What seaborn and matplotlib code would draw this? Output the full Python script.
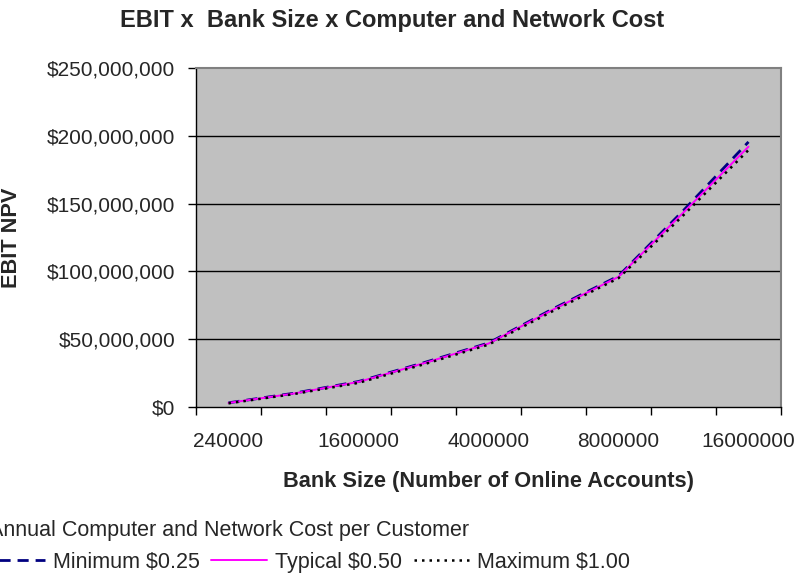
import matplotlib
matplotlib.use("Agg")
import matplotlib.pyplot as plt
import seaborn as sns
import pandas as pd
from matplotlib.ticker import FuncFormatter, FixedLocator
from matplotlib.lines import Line2D

# Bank sizes (number of online accounts), one category per size
bank_sizes = ["240000", "800000", "1600000", "2400000", "4000000",
              "6000000", "8000000", "12000000", "16000000"]

# EBIT NPV per cost scenario
ebit_minimum = [3.1e6, 10.1e6, 18.8e6, 32.6e6, 47.2e6, 72.6e6, 96.6e6, 145.0e6, 195.5e6]
ebit_typical = [3.0e6, 9.9e6, 18.5e6, 32.2e6, 46.8e6, 72.0e6, 96.0e6, 143.5e6, 192.0e6]
ebit_maximum = [2.7e6, 9.5e6, 17.8e6, 31.4e6, 46.0e6, 71.0e6, 95.0e6, 141.5e6, 189.5e6]

series_names = ["Minimum $0.25", "Typical $0.50", "Maximum $1.00"]
legend_title = "Annual Computer and Network Cost per Customer"
y_ticks = [0, 50e6, 100e6, 150e6, 200e6, 250e6]
x_label_sizes = ["240000", "1600000", "4000000", "8000000", "16000000"]

df = pd.concat([
    pd.DataFrame({"size": bank_sizes, "ebit": vals, "series": name})
    for name, vals in zip(series_names, [ebit_minimum, ebit_typical, ebit_maximum])
], ignore_index=True)

sns.set_style("white")
plt.rcParams["font.family"] = ["Liberation Sans", "DejaVu Sans"]

colors = {"Minimum $0.25": "#000080", "Typical $0.50": "#FF00FF", "Maximum $1.00": "#000000"}
dashes = {"Minimum $0.25": (4, 2.5), "Typical $0.50": "", "Maximum $1.00": (1, 2)}
widths = {"Minimum $0.25": 2.0, "Typical $0.50": 1.4, "Maximum $1.00": 1.8}

fig = plt.figure(figsize=(7.97, 5.74), dpi=100)
ax = fig.add_axes([196 / 797, 1 - 407 / 574, 585 / 797, 339 / 574])
ax.set_facecolor("#C0C0C0")

for name in series_names:
    sub = df[df["series"] == name]
    sns.lineplot(data=sub, x="size", y="ebit", color=colors[name],
                 sort=False, ax=ax, legend=False, linewidth=widths[name])
    line = ax.lines[-1]
    if dashes[name]:
        line.set_dashes(dashes[name])

n = len(bank_sizes)
ax.set_xlim(-0.5, n - 0.5)
ax.set_ylim(0, 250e6)

# Category boundaries carry the tick marks; every other category is labelled
label_pos = [bank_sizes.index(s) for s in x_label_sizes]
ax.xaxis.set_major_locator(FixedLocator(label_pos))
ax.set_xticklabels(x_label_sizes)
ax.xaxis.set_minor_locator(FixedLocator([i - 0.5 for i in range(n + 1)]))
ax.tick_params(axis="x", which="major", length=0, pad=18, labelsize=15)
ax.tick_params(axis="x", which="minor", length=6, width=1, color="black", direction="out",
               bottom=True)

ax.yaxis.set_major_locator(FixedLocator(y_ticks))
ax.yaxis.set_major_formatter(FuncFormatter(lambda v, p: "${:,.0f}".format(v)))
ax.tick_params(axis="y", which="major", length=6, width=1, color="black", direction="out",
               pad=9, labelsize=15, left=True)

ax.grid(False)
for v in y_ticks[1:-1]:
    ax.axhline(v, color="#000000", linewidth=1, zorder=0.5)

for side in ["left", "bottom"]:
    ax.spines[side].set_color("#000000")
    ax.spines[side].set_linewidth(1)
for side in ["top", "right"]:
    ax.spines[side].set_color("#808080")
    ax.spines[side].set_linewidth(1.5)

ax.set_xlabel("Bank Size (Number of Online Accounts)", fontsize=15.7, fontweight="bold")
ax.xaxis.set_label_coords(0.5, (407 - 471) / 339)
ax.set_ylabel("EBIT NPV", fontsize=15.7, fontweight="bold")
ax.yaxis.set_label_coords((12 - 196) / 585, 0.5)
ax.yaxis.label.set_va("center")

fig.text(392 / 797, 1 - 21 / 574, "EBIT x  Bank Size x Computer and Network Cost",
         ha="center", va="center", fontsize=17, fontweight="bold")

handles = [Line2D([], [], color=colors[s], linewidth=widths[s],
                  dashes=dashes[s] if dashes[s] else (None, None)) for s in series_names]
leg = fig.legend(handles, series_names, title=legend_title, loc="upper left",
                 bbox_to_anchor=(-11 / 797, 1 - 520 / 574), ncol=3, frameon=False,
                 fontsize=15.5, title_fontsize=15.5, alignment="left",
                 handlelength=2.6, handletextpad=0.35, columnspacing=0.55,
                 labelspacing=0.5, borderpad=0, borderaxespad=0)

fig.savefig("out.png", dpi=100)
